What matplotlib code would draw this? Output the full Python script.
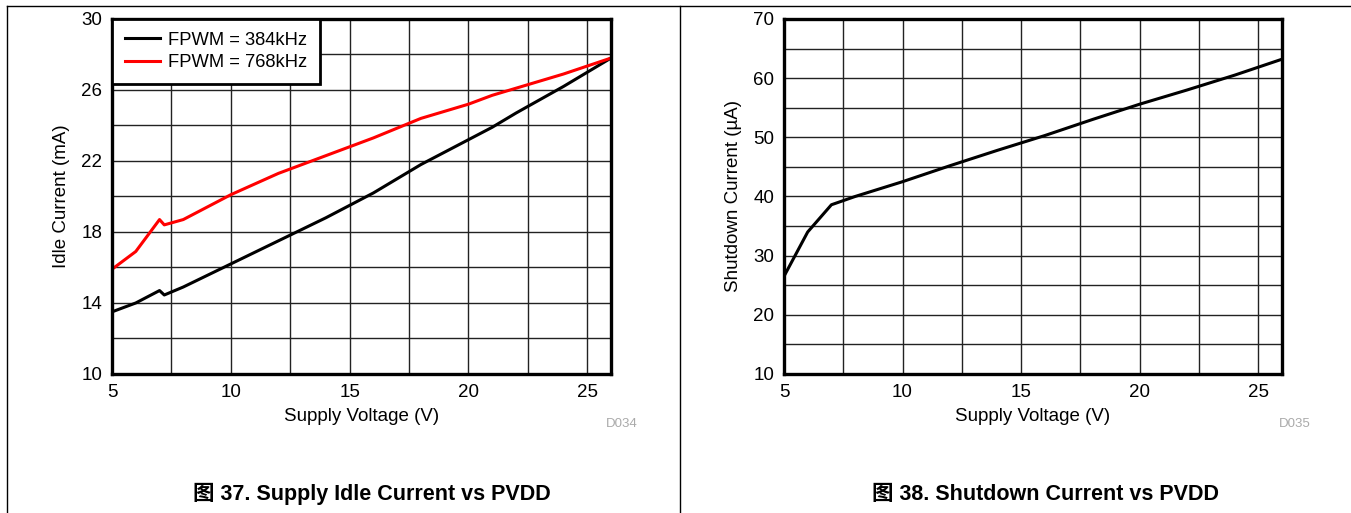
import matplotlib
matplotlib.use("Agg")
import matplotlib.pyplot as plt
from matplotlib.lines import Line2D

plt.rcParams["font.family"] = ["Liberation Sans", "Noto Sans CJK SC", "DejaVu Sans"]

# Datos - figura 37 (corriente en reposo)
vdd_idle = [5, 6, 7, 7.2, 8, 10, 12, 14, 16, 18, 20, 21, 22, 24, 26]
idle_384 = [13.5, 14.0, 14.7, 14.45, 14.9, 16.2, 17.5, 18.8, 20.2, 21.8, 23.2, 23.9, 24.7, 26.2, 27.8]
idle_768 = [15.9, 16.9, 18.7, 18.4, 18.7, 20.1, 21.3, 22.3, 23.3, 24.4, 25.2, 25.7, 26.1, 26.9, 27.8]

# Datos - figura 38 (corriente en apagado)
vdd_sd = [5, 6, 7, 8, 10, 12, 14, 16, 18, 20, 22, 24, 26]
shutdown = [26.5, 34.0, 38.6, 40.0, 42.5, 45.2, 47.8, 50.3, 53.0, 55.6, 58.0, 60.5, 63.2]

fig = plt.figure(figsize=(13.51, 5.13), dpi=100)

ax1 = fig.add_axes([0.0829, 0.271, 0.3694, 0.692])
ax2 = fig.add_axes([0.5803, 0.271, 0.3686, 0.692])


def estilo(ax, ylim, ymajor, yminor):
    ax.set_xlim(5, 26)
    ax.set_ylim(*ylim)
    ax.set_xticks([5, 10, 15, 20, 25])
    ax.set_xticks([x * 2.5 for x in range(2, 11)], minor=True)
    ax.set_yticks(range(ylim[0], ylim[1] + 1, ymajor))
    ax.set_yticks(range(ylim[0], ylim[1] + 1, yminor), minor=True)
    ax.grid(which="both", color="#222222", linewidth=1.0)
    ax.tick_params(which="both", length=0, labelsize=13.5, pad=7)
    for s in ax.spines.values():
        s.set_linewidth(2.4)
    ax.set_axisbelow(True)


estilo(ax1, (10, 30), 4, 2)
estilo(ax2, (10, 70), 10, 5)

ax1.plot(vdd_idle, idle_384, color="black", linewidth=2.2, label="FPWM = 384kHz")
ax1.plot(vdd_idle, idle_768, color="#ff0000", linewidth=2.2, label="FPWM = 768kHz")
ax1.set_xlabel("Supply Voltage (V)", fontsize=13.5, labelpad=5)
ax1.set_ylabel("Idle Current (mA)", fontsize=13.5, labelpad=8)
leg = ax1.legend(loc="upper left", fontsize=13.2, frameon=True, fancybox=False,
                 borderaxespad=0, handlelength=1.9, borderpad=0.7,
                 labelspacing=0.3, handletextpad=0.45)
leg.get_frame().set_edgecolor("black")
leg.get_frame().set_linewidth(2)
leg.get_frame().set_alpha(1)

ax2.plot(vdd_sd, shutdown, color="black", linewidth=2.2)
ax2.set_xlabel("Supply Voltage (V)", fontsize=13.5, labelpad=5)
ax2.set_ylabel("Shutdown Current (\u00b5A)", fontsize=13.5, labelpad=8)

fig.text(622 / 1351, 1 - 424 / 513, "D034", color="#aaaaaa", fontsize=9.5,
         ha="center", va="center")
fig.text(1295 / 1351, 1 - 424 / 513, "D035", color="#aaaaaa", fontsize=9.5,
         ha="center", va="center")

fig.text(372 / 1351, 1 - 494 / 513, "图 37. Supply Idle Current vs PVDD",
         fontsize=15.5, fontweight="bold", ha="center", va="center")
fig.text(1045 / 1351, 1 - 494 / 513, "图 38. Shutdown Current vs PVDD",
         fontsize=15.5, fontweight="bold", ha="center", va="center")

# Marcos de la página
fig.add_artist(Line2D([7 / 1351, 1], [1 - 6 / 513, 1 - 6 / 513], color="black", linewidth=1))
fig.add_artist(Line2D([7 / 1351, 7 / 1351], [0, 1 - 6 / 513], color="black", linewidth=1))
fig.add_artist(Line2D([680 / 1351, 680 / 1351], [0, 1 - 6 / 513], color="black", linewidth=1))

plt.savefig("out.png", dpi=100)
